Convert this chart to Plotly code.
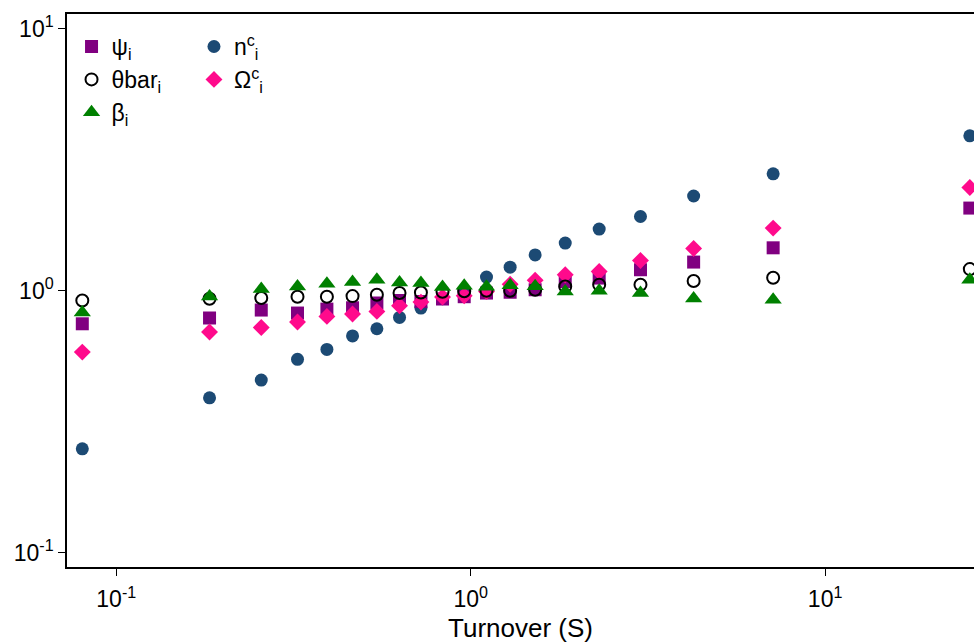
import plotly.graph_objects as go

turnover = [0.0802, 0.1833, 0.2565, 0.3246, 0.3929, 0.4641, 0.5436, 0.6298, 0.7237, 0.8327,
            0.9587, 1.108, 1.292, 1.520, 1.848, 2.304, 3.013, 4.256, 7.134, 25.6]

psi = [0.748, 0.787, 0.844, 0.822, 0.851, 0.861, 0.898, 0.918, 0.910, 0.930,
       0.949, 0.980, 0.987, 1.009, 1.085, 1.118, 1.203, 1.287, 1.459, 2.069]
theta_bar = [0.918, 0.932, 0.938, 0.949, 0.949, 0.954, 0.965, 0.980, 0.985, 0.991,
             0.996, 1.000, 1.000, 1.009, 1.038, 1.054, 1.054, 1.090, 1.121, 1.210]
beta = [0.826, 0.951, 1.015, 1.038, 1.063, 1.079, 1.101, 1.076, 1.070, 1.033,
        1.045, 1.036, 1.049, 1.040, 0.994, 1.000, 0.980, 0.935, 0.924, 1.101]
n_c = [0.249, 0.390, 0.456, 0.547, 0.597, 0.672, 0.716, 0.791, 0.859, 0.932,
       0.983, 1.128, 1.231, 1.370, 1.521, 1.720, 1.921, 2.301, 2.797, 3.905]
omega_c = [0.583, 0.696, 0.724, 0.760, 0.798, 0.815, 0.834, 0.876, 0.905, 0.946,
           0.957, 0.994, 1.059, 1.097, 1.151, 1.185, 1.305, 1.450, 1.735, 2.480]

tick_vals = [0.1, 1, 10]
tick_text = ["10<sup>-1</sup>", "10<sup>0</sup>", "10<sup>1</sup>"]

FONT = "Liberation Sans, Arial, sans-serif"

fig = go.Figure()
fig.add_trace(go.Scatter(x=turnover, y=n_c, mode="markers", name="n<sup>c</sup><sub>i</sub>",
                         marker=dict(symbol="circle", size=13, color="#1c4a74"),
                         legend="legend2", legendgroup="n"))
fig.add_trace(go.Scatter(x=turnover, y=psi, mode="markers", name="ψ<sub>i</sub>",
                         marker=dict(symbol="square", size=13, color="#800080"),
                         legend="legend", legendgroup="psi"))
fig.add_trace(go.Scatter(x=turnover, y=omega_c, mode="markers", name="Ω<sup>c</sup><sub>i</sub>",
                         marker=dict(symbol="diamond", size=13, color="#ff0a8c"),
                         legend="legend2", legendgroup="om"))
fig.add_trace(go.Scatter(x=turnover, y=theta_bar, mode="markers", name="θbar<sub>i</sub>",
                         marker=dict(symbol="circle-open", size=12, color="black",
                                     line=dict(width=2, color="black")),
                         legend="legend", legendgroup="th"))
fig.add_trace(go.Scatter(x=turnover, y=beta, mode="markers", name="β<sub>i</sub>",
                         marker=dict(symbol="triangle-up", size=15, color="#008000"),
                         legend="legend", legendgroup="be"))

fig.update_layout(
    width=974, height=643,
    margin=dict(l=67, r=0, t=14, b=76, autoexpand=False),
    paper_bgcolor="white", plot_bgcolor="white",
    font=dict(family=FONT, size=20, color="black"),
    legend=dict(x=0.005, y=0.98, xanchor="left", yanchor="top", bgcolor="rgba(0,0,0,0)",
                font=dict(size=23), tracegroupgap=0, itemwidth=30),
    legend2=dict(x=0.14, y=0.98, xanchor="left", yanchor="top", bgcolor="rgba(0,0,0,0)",
                 font=dict(size=23), tracegroupgap=0, itemwidth=30),
    xaxis=dict(type="log", range=[-1.139, 1.420], showgrid=False, zeroline=False,
               showline=True, linecolor="black", linewidth=1.5, mirror=True,
               ticks="outside", ticklen=7, tickwidth=1, tickcolor="black",
               tickvals=tick_vals, ticktext=tick_text, tickfont=dict(size=23),
               ticklabelstandoff=4, automargin=False,
               title=dict(text="Turnover (S)", font=dict(size=26), standoff=10)),
    yaxis=dict(type="log", range=[-1.055, 1.057], showgrid=False, zeroline=False,
               showline=True, linecolor="black", linewidth=1.5, automargin=False,
               ticks="outside", ticklen=7, tickwidth=1, tickcolor="black",
               tickvals=tick_vals, ticktext=tick_text, tickfont=dict(size=23)),
)

fig.write_html(
    "out.html",
    config={"displayModeBar": False},
    post_script="document.body.style.margin='0';document.body.style.overflow='hidden';",
)
